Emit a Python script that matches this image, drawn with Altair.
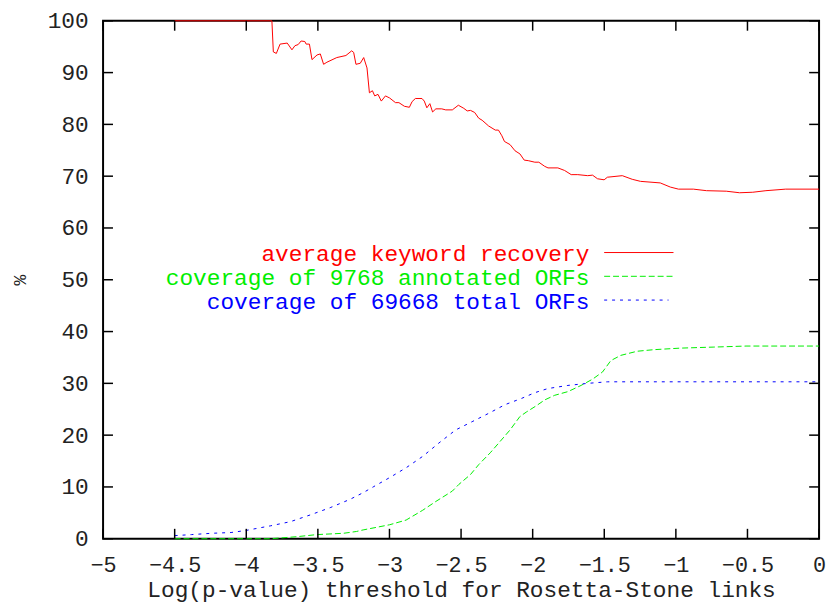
import altair as alt
import pandas as pd

# ---- data ----
red_x = [-4.5, -3.821, -3.811, -3.790, -3.764, -3.714, -3.681, -3.660, -3.638, -3.617, -3.591,
         -3.582, -3.559, -3.541, -3.506, -3.483, -3.460, -3.437, -3.368, -3.304, -3.264, -3.250,
         -3.234, -3.204, -3.180, -3.157, -3.140, -3.119, -3.103, -3.080, -3.057, -3.028, -2.999,
         -2.958, -2.934, -2.896, -2.861, -2.842, -2.819, -2.773, -2.757, -2.739, -2.718, -2.699,
         -2.676, -2.635, -2.607, -2.561, -2.519, -2.481, -2.457, -2.434, -2.405, -2.377, -2.353,
         -2.308, -2.261, -2.239, -2.215, -2.197, -2.158, -2.123, -2.089, -2.059, -2.031, -1.985,
         -1.957, -1.916, -1.893, -1.824, -1.777, -1.731, -1.685, -1.616, -1.582, -1.547, -1.501,
         -1.478, -1.374, -1.305, -1.247, -1.109, -1.039, -0.982, -0.878, -0.786, -0.648, -0.555,
         -0.463, -0.371, -0.233, 0.0]
red_y = [100, 100, 94.0, 93.7, 95.5, 95.7, 94.4, 95.2, 95.4, 96.1, 96.0,
         95.5, 95.5, 92.5, 93.4, 93.6, 91.6, 92.0, 92.9, 93.3, 94.2, 93.9,
         91.6, 91.8, 92.9, 90.9, 86.1, 86.5, 85.5, 85.8, 84.5, 85.5, 85.1,
         84.2, 84.2, 83.5, 83.3, 84.4, 85.0, 85.0, 84.5, 83.2, 84.0, 82.4,
         83.0, 83.0, 82.8, 82.8, 83.7, 83.1, 82.6, 82.7, 82.3, 81.2, 80.8,
         79.7, 78.9, 78.9, 77.8, 76.7, 76.1, 74.9, 74.3, 73.1, 73.0, 72.7,
         72.7, 71.9, 71.6, 71.6, 71.1, 70.3, 70.3, 70.1, 70.2, 69.5, 69.3,
         69.8, 70.1, 69.4, 69.0, 68.7, 67.9, 67.5, 67.5, 67.2, 67.1, 66.8,
         66.9, 67.2, 67.5, 67.5]

green_x = [-4.5, -3.831, -3.645, -3.506, -3.322, -3.230, -3.184, -3.091, -2.999, -2.884, -2.768,
           -2.676, -2.561, -2.515, -2.434, -2.377, -2.296, -2.227, -2.158, -2.089, -2.042, -1.973,
           -1.916, -1.846, -1.754, -1.662, -1.582, -1.512, -1.454, -1.385, -1.270, -1.155, -0.970,
           -0.740, -0.510, 0.0]
green_y = [0, 0, 0.4, 0.8, 1.05, 1.4, 1.7, 2.2, 2.7, 3.6, 5.5,
           7.2, 9.2, 10.5, 12.4, 14.3, 16.6, 18.8, 21.0, 23.6, 24.5, 25.7,
           26.8, 27.7, 28.4, 29.6, 30.8, 32.2, 34.4, 35.4, 36.2, 36.5, 36.8,
           37.0, 37.2, 37.2]

blue_x = [-4.5, -4.382, -4.244, -4.106, -4.002, -3.829, -3.691, -3.553, -3.414, -3.276, -3.183,
          -3.114, -2.999, -2.884, -2.768, -2.654, -2.538, -2.423, -2.308, -2.192, -2.077, -1.985,
          -1.893, -1.754, -1.616, -1.478, 0.0]
blue_y = [0.6, 0.8, 1.05, 1.2, 1.6, 2.5, 3.3, 4.6, 6.0, 7.6, 8.9,
          10.0, 11.8, 13.7, 15.9, 18.5, 21.0, 22.6, 24.2, 25.9, 27.1, 28.2,
          29.0, 29.6, 30.0, 30.3, 30.3]

series_labels = ["average keyword recovery",
                 "coverage of 9768 annotated ORFs",
                 "coverage of 69668 total ORFs"]
series_colors = ["#ff0000", "#00ee00", "#0000ff"]

x_ticks = [-5, -4.5, -4, -3.5, -3, -2.5, -2, -1.5, -1, -0.5, 0]
y_ticks = [0, 10, 20, 30, 40, 50, 60, 70, 80, 90, 100]

x_title = "Log(p-value) threshold for Rosetta-Stone links"
y_title = "%"

# ---- layout ----
W, H = 723, 523
FONT = "Liberation Mono"

xs = alt.Scale(domain=[-5, 0], nice=False, zero=False)
ys = alt.Scale(domain=[0, 100], nice=False)

x_axis = alt.Axis(values=x_ticks, title=x_title, ticks=False, domain=False, grid=False,
                  labelFlush=False, labelPadding=16, labelFontSize=22,
                  titleFontSize=23, titleBaseline="top", titleY=40,
                  labelExpr="datum.value == 0 ? '0' : format(datum.value, '.2~f')")
y_axis = alt.Axis(values=y_ticks, title=y_title, ticks=False, domain=False, grid=False,
                  labelPadding=15, titlePadding=18, labelFlush=False, labelFontSize=23,
                  titleFontSize=18)


def line_layer(xv, yv, color, dash=None):
    df = pd.DataFrame({"x": xv, "y": yv})
    kw = dict(color=color, strokeWidth=1, interpolate="linear")
    if dash:
        kw["strokeDash"] = dash
    return alt.Chart(df).mark_line(**kw).encode(
        x=alt.X("x:Q", scale=xs, axis=x_axis),
        y=alt.Y("y:Q", scale=ys, axis=y_axis),
    )


red = line_layer(red_x, red_y, series_colors[0])
green = line_layer(green_x, green_y, series_colors[1], [6, 3])
blue = line_layer(blue_x, blue_y, series_colors[2], [3, 5])

# inward ticks (gnuplot style, mirrored on all sides)
xt = pd.DataFrame({"v": x_ticks})
yt = pd.DataFrame({"v": y_ticks})
TL = 10
tick_style = dict(color="#000000", strokeWidth=1.5)
xb = alt.Chart(xt).mark_rule(**tick_style).encode(
    x=alt.X("v:Q", scale=xs), y=alt.value(H), y2=alt.value(H - TL))
xtp = alt.Chart(xt).mark_rule(**tick_style).encode(
    x=alt.X("v:Q", scale=xs), y=alt.value(0), y2=alt.value(TL))
yl = alt.Chart(yt).mark_rule(**tick_style).encode(
    y=alt.Y("v:Q", scale=ys), x=alt.value(0), x2=alt.value(TL))
yr = alt.Chart(yt).mark_rule(**tick_style).encode(
    y=alt.Y("v:Q", scale=ys), x=alt.value(W - TL), x2=alt.value(W))

# legend (key inside the plot, text right-aligned, sample to the right)
leg_rows = [236, 260, 284]
legend_layers = []
dashes = [None, [6, 3], [3, 5]]
sample_end = [576, 576, 571]
for lab, col, ry, dsh, se in zip(series_labels, series_colors, leg_rows, dashes, sample_end):
    ldf = pd.DataFrame({"label": [lab]})
    legend_layers.append(
        alt.Chart(ldf).mark_text(align="right", baseline="middle", font=FONT, fontSize=23,
                                 color=col).encode(
            text="label:N", x=alt.value(491), y=alt.value(ry)))
    rkw = dict(color=col, strokeWidth=1)
    if dsh:
        rkw["strokeDash"] = dsh
    legend_layers.append(
        alt.Chart(ldf).mark_rule(**rkw).encode(
            x=alt.value(506), x2=alt.value(se), y=alt.value(ry - 2)))

chart = alt.layer(red, green, blue, xb, xtp, yl, yr, *legend_layers).properties(
    width=W, height=H,
    autosize=alt.AutoSizeParams(type="none"),
    padding={"left": 96, "top": 10, "right": 7, "bottom": 65},
    background="#ffffff",
).configure_view(
    stroke="#000000", strokeWidth=2
).configure_axis(
    labelFont=FONT, labelColor="#222222",
    titleFont=FONT, titleFontWeight="normal", titleColor="#222222",
)

chart.save("out.html", embed_options={"renderer": "svg", "actions": False})
